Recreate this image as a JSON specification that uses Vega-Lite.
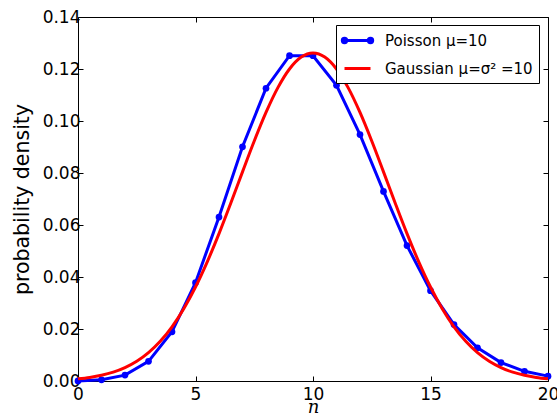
{
  "$schema": "https://vega.github.io/schema/vega-lite/v6.json",
  "width": 470,
  "height": 364,
  "autosize": "none",
  "padding": {"left": 78, "top": 17, "right": 9, "bottom": 36},
  "background": "white",
  "config": {
    "font": "DejaVu Sans",
    "view": {"stroke": "#000000", "strokeWidth": 1},
    "axis": {
      "domain": false,
      "grid": false,
      "tickColor": "#000000",
      "tickSize": -5,
      "tickWidth": 1,
      "labelColor": "#000000",
      "labelFont": "DejaVu Sans",
      "labelFontSize": 17,
      "titleColor": "#000000",
      "titleFontWeight": "normal"
    }
  },
  "datasets": {
    "poisson": [
      {"n": 0, "p": 0.0000454, "series": "Poisson μ=10"},
      {"n": 1, "p": 0.000454, "series": "Poisson μ=10"},
      {"n": 2, "p": 0.00227, "series": "Poisson μ=10"},
      {"n": 3, "p": 0.00757, "series": "Poisson μ=10"},
      {"n": 4, "p": 0.01892, "series": "Poisson μ=10"},
      {"n": 5, "p": 0.03783, "series": "Poisson μ=10"},
      {"n": 6, "p": 0.06306, "series": "Poisson μ=10"},
      {"n": 7, "p": 0.09008, "series": "Poisson μ=10"},
      {"n": 8, "p": 0.1126, "series": "Poisson μ=10"},
      {"n": 9, "p": 0.12511, "series": "Poisson μ=10"},
      {"n": 10, "p": 0.12511, "series": "Poisson μ=10"},
      {"n": 11, "p": 0.11374, "series": "Poisson μ=10"},
      {"n": 12, "p": 0.09478, "series": "Poisson μ=10"},
      {"n": 13, "p": 0.07291, "series": "Poisson μ=10"},
      {"n": 14, "p": 0.05208, "series": "Poisson μ=10"},
      {"n": 15, "p": 0.03472, "series": "Poisson μ=10"},
      {"n": 16, "p": 0.0217, "series": "Poisson μ=10"},
      {"n": 17, "p": 0.01276, "series": "Poisson μ=10"},
      {"n": 18, "p": 0.00709, "series": "Poisson μ=10"},
      {"n": 19, "p": 0.00373, "series": "Poisson μ=10"},
      {"n": 20, "p": 0.00187, "series": "Poisson μ=10"}
    ],
    "gauss": [
      {"n": 0, "p": 0.00085, "series": "Gaussian μ=σ² =10"},
      {"n": 0.5, "p": 0.001384, "series": "Gaussian μ=σ² =10"},
      {"n": 1, "p": 0.002198, "series": "Gaussian μ=σ² =10"},
      {"n": 1.5, "p": 0.003404, "series": "Gaussian μ=σ² =10"},
      {"n": 2, "p": 0.005142, "series": "Gaussian μ=σ² =10"},
      {"n": 2.5, "p": 0.007576, "series": "Gaussian μ=σ² =10"},
      {"n": 3, "p": 0.010886, "series": "Gaussian μ=σ² =10"},
      {"n": 3.5, "p": 0.015258, "series": "Gaussian μ=σ² =10"},
      {"n": 4, "p": 0.020855, "series": "Gaussian μ=σ² =10"},
      {"n": 4.5, "p": 0.0278, "series": "Gaussian μ=σ² =10"},
      {"n": 5, "p": 0.03615, "series": "Gaussian μ=σ² =10"},
      {"n": 5.5, "p": 0.04584, "series": "Gaussian μ=σ² =10"},
      {"n": 6, "p": 0.05669, "series": "Gaussian μ=σ² =10"},
      {"n": 6.5, "p": 0.06838, "series": "Gaussian μ=σ² =10"},
      {"n": 7, "p": 0.08044, "series": "Gaussian μ=σ² =10"},
      {"n": 7.5, "p": 0.0923, "series": "Gaussian μ=σ² =10"},
      {"n": 8, "p": 0.10329, "series": "Gaussian μ=σ² =10"},
      {"n": 8.5, "p": 0.11274, "series": "Gaussian μ=σ² =10"},
      {"n": 9, "p": 0.12001, "series": "Gaussian μ=σ² =10"},
      {"n": 9.5, "p": 0.12459, "series": "Gaussian μ=σ² =10"},
      {"n": 10, "p": 0.12616, "series": "Gaussian μ=σ² =10"},
      {"n": 10.5, "p": 0.12459, "series": "Gaussian μ=σ² =10"},
      {"n": 11, "p": 0.12001, "series": "Gaussian μ=σ² =10"},
      {"n": 11.5, "p": 0.11274, "series": "Gaussian μ=σ² =10"},
      {"n": 12, "p": 0.10329, "series": "Gaussian μ=σ² =10"},
      {"n": 12.5, "p": 0.0923, "series": "Gaussian μ=σ² =10"},
      {"n": 13, "p": 0.08044, "series": "Gaussian μ=σ² =10"},
      {"n": 13.5, "p": 0.06838, "series": "Gaussian μ=σ² =10"},
      {"n": 14, "p": 0.05669, "series": "Gaussian μ=σ² =10"},
      {"n": 14.5, "p": 0.04584, "series": "Gaussian μ=σ² =10"},
      {"n": 15, "p": 0.03615, "series": "Gaussian μ=σ² =10"},
      {"n": 15.5, "p": 0.0278, "series": "Gaussian μ=σ² =10"},
      {"n": 16, "p": 0.020855, "series": "Gaussian μ=σ² =10"},
      {"n": 16.5, "p": 0.015258, "series": "Gaussian μ=σ² =10"},
      {"n": 17, "p": 0.010886, "series": "Gaussian μ=σ² =10"},
      {"n": 17.5, "p": 0.007576, "series": "Gaussian μ=σ² =10"},
      {"n": 18, "p": 0.005142, "series": "Gaussian μ=σ² =10"},
      {"n": 18.5, "p": 0.003404, "series": "Gaussian μ=σ² =10"},
      {"n": 19, "p": 0.002198, "series": "Gaussian μ=σ² =10"},
      {"n": 19.5, "p": 0.001384, "series": "Gaussian μ=σ² =10"},
      {"n": 20, "p": 0.00085, "series": "Gaussian μ=σ² =10"}
    ]
  },
  "layer": [
    {
      "data": {"name": "poisson"},
      "mark": {"type": "line", "strokeWidth": 3, "point": {"filled": true, "size": 45}},
      "encoding": {
        "x": {
          "field": "n", "type": "quantitative",
          "scale": {"domain": [0, 20], "nice": false, "zero": false},
          "axis": {"orient": "bottom", "values": [0, 5, 10, 15, 20], "labelPadding": 10, "title": "n", "titleFont": "DejaVu Serif", "titleFontStyle": "italic", "titleFontSize": 18, "titlePadding": -4, "labelFlush": false}
        },
        "y": {
          "field": "p", "type": "quantitative",
          "scale": {"domain": [0, 0.14], "nice": false},
          "axis": {"orient": "left", "values": [0, 0.02, 0.04, 0.06, 0.08, 0.1, 0.12, 0.14], "format": ".2f", "labelPadding": 3, "title": "probability density", "titleFontSize": 20.5, "titlePadding": 10, "labelFlush": false}
        },
        "color": {
          "field": "series", "type": "nominal",
          "scale": {"domain": ["Poisson μ=10", "Gaussian μ=σ² =10"], "range": ["#0000ff", "#ff0000"]},
          "legend": {
            "orient": "none",
            "legendX": 258,
            "legendY": 8,
            "title": null,
            "strokeColor": "#000000",
            "fillColor": "#ffffff",
            "padding": 6,
            "cornerRadius": 0,
            "labelFontSize": 15,
            "labelFont": "DejaVu Sans",
            "labelColor": "#000000",
            "labelOffset": 24,
            "rowPadding": 10,
            "symbolSize": 256,
            "symbolStrokeWidth": 3,
            "encode": {
              "symbols": {
                "update": {
                  "shape": {"signal": "datum.value === 'Poisson μ=10' ? 'M-0.875,0L2.375,0M-1.15,0a0.275,0.275 0 1,0 0.55,0a0.275,0.275 0 1,0 -0.55,0M2.1,0a0.275,0.275 0 1,0 0.55,0a0.275,0.275 0 1,0 -0.55,0' : 'M-0.875,0L2.375,0'"},
                  "fill": {"signal": "datum.value === 'Poisson μ=10' ? '#0000ff' : 'transparent'"},
                  "stroke": {"signal": "datum.value === 'Poisson μ=10' ? '#0000ff' : '#ff0000'"},
                  "strokeWidth": {"value": 3}
                }
              }
            }
          }
        }
      }
    },
    {
      "data": {"name": "gauss"},
      "mark": {"type": "line", "strokeWidth": 3, "interpolate": "monotone"},
      "encoding": {
        "x": {
          "field": "n", "type": "quantitative",
          "scale": {"domain": [0, 20], "nice": false, "zero": false},
          "axis": {"orient": "top", "values": [0, 5, 10, 15, 20], "labels": false, "title": null}
        },
        "y": {
          "field": "p", "type": "quantitative",
          "scale": {"domain": [0, 0.14], "nice": false},
          "axis": {"orient": "right", "values": [0, 0.02, 0.04, 0.06, 0.08, 0.1, 0.12, 0.14], "labels": false, "title": null}
        },
        "color": {
          "field": "series", "type": "nominal",
          "scale": {"domain": ["Poisson μ=10", "Gaussian μ=σ² =10"], "range": ["#0000ff", "#ff0000"]}
        }
      }
    }
  ],
  "resolve": {"scale": {"x": "independent", "y": "independent"}}
}
